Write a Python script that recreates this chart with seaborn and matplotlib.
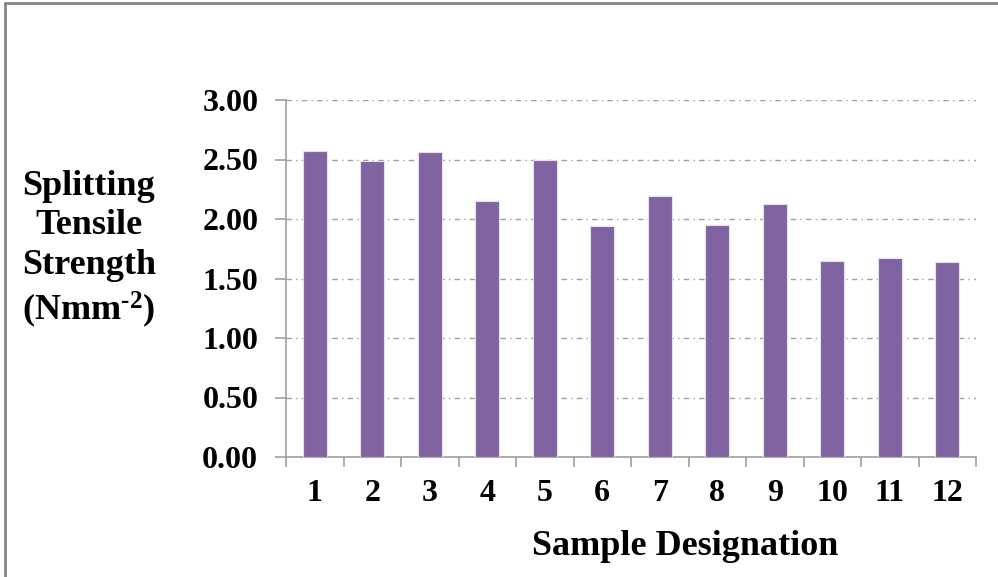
import matplotlib
matplotlib.use("Agg")
import matplotlib.pyplot as plt
from matplotlib.lines import Line2D
from matplotlib.ticker import FixedLocator
import seaborn as sns
import pandas as pd

# splitting tensile strength per sample
samples = ["1", "2", "3", "4", "5", "6", "7", "8", "9", "10", "11", "12"]
strength = [2.57, 2.49, 2.56, 2.15, 2.50, 1.94, 2.19, 1.95, 2.13, 1.65, 1.67, 1.64]
yticks = [0.0, 0.5, 1.0, 1.5, 2.0, 2.5, 3.0]

sns.set_theme(style="white")
plt.rcParams["font.family"] = ["Liberation Serif", "DejaVu Serif"]
plt.rcParams["font.weight"] = "bold"
plt.rcParams["text.color"] = "black"
plt.rcParams["xtick.labelcolor"] = "black"
plt.rcParams["ytick.labelcolor"] = "black"
plt.rcParams["mathtext.fontset"] = "custom"
plt.rcParams["mathtext.rm"] = "Liberation Serif:bold"
plt.rcParams["mathtext.bf"] = "Liberation Serif:bold"
plt.rcParams["mathtext.default"] = "rm"

df = pd.DataFrame({"sample": samples, "strength": strength})

fig = plt.figure(figsize=(9.98, 5.77), dpi=100)
ax = fig.add_axes([286 / 998, 1 - 457 / 577, (976 - 286) / 998, (457 - 100) / 577])

sns.barplot(data=df, x="sample", y="strength", color="#8064A2", saturation=1,
            width=0.42, edgecolor="#E6E0EC", linewidth=0.8, ax=ax, zorder=3)

ax.set_xlim(-0.5, len(samples) - 0.5)
ax.set_ylim(0, 3)
ax.set_yticks(yticks)
ax.set_yticklabels([f"{v:.2f}" for v in yticks])
ax.set_xlabel("")
ax.set_ylabel("")

gray = "#A0A0A0"
ax.yaxis.grid(True, linestyle=(0, (4, 3, 1, 3)), color=gray, linewidth=1, zorder=0)
ax.set_axisbelow(True)
for side in ["top", "right"]:
    ax.spines[side].set_visible(False)
for side in ["left", "bottom"]:
    ax.spines[side].set_color(gray)
    ax.spines[side].set_linewidth(1.2)

# category ticks sit between bars, like the original spreadsheet chart
ax.xaxis.set_minor_locator(FixedLocator([i - 0.5 for i in range(len(samples) + 1)]))
ax.tick_params(axis="x", which="major", length=0, pad=16, labelsize=23, labelcolor="black")
ax.tick_params(axis="x", which="minor", bottom=True, length=7, width=1.2, color=gray, direction="out")
ax.tick_params(axis="y", which="major", left=True, length=8, width=1.2, color=gray,
               direction="out", pad=12, labelsize=23, labelcolor="black")
for lab in ax.get_xticklabels() + ax.get_yticklabels():
    lab.set_fontweight("bold")

fig.text(0.687, 22 / 577, "Sample Designation", ha="center", va="baseline",
         fontsize=26, fontweight="bold", color="black")
fig.text(89 / 998, 1 - 250 / 577, "Splitting\nTensile\nStrength\n(Nmm$^{\\text{-2}}$)",
         ha="center", va="center", fontsize=26, fontweight="bold", linespacing=1.25,
         color="black")

# outer frame (only left and top visible in the source)
fig.add_artist(Line2D([5 / 998, 5 / 998], [0, 1 - 3 / 577], transform=fig.transFigure,
                      color="#858585", linewidth=2))
fig.add_artist(Line2D([5 / 998, 1], [1 - 3 / 577, 1 - 3 / 577], transform=fig.transFigure,
                      color="#858585", linewidth=2))

fig.savefig("out.png", dpi=100, facecolor="white")
